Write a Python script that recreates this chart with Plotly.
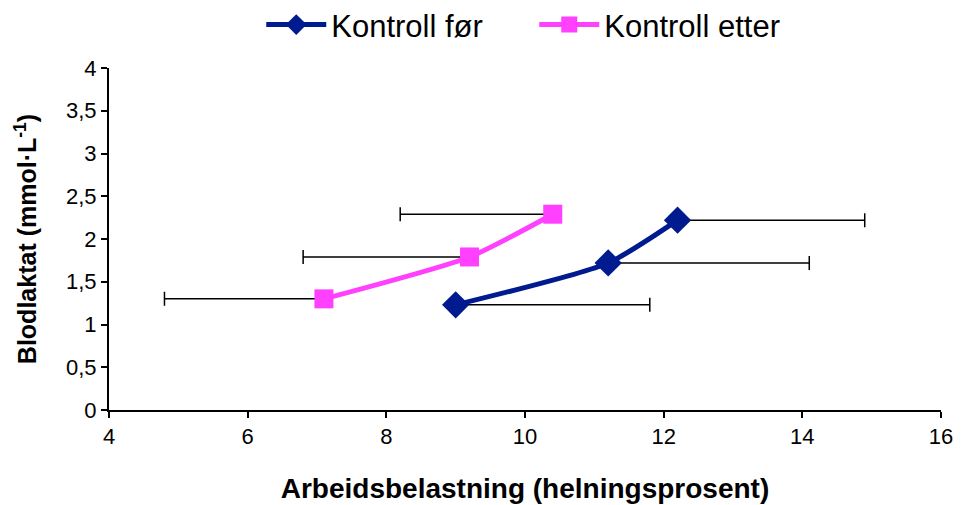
import plotly.graph_objects as go

# Data
for_x = [9.0, 11.2, 12.2]
for_y = [1.23, 1.72, 2.22]
for_err_plus = [2.8, 2.9, 2.7]

etter_x = [7.1, 9.2, 10.4]
etter_y = [1.30, 1.79, 2.29]
etter_err_minus = [2.3, 2.4, 2.2]

x_ticks = [4, 6, 8, 10, 12, 14, 16]
y_ticks = [0, 0.5, 1, 1.5, 2, 2.5, 3, 3.5, 4]

tickfam = "Liberation Sans Narrow, Arial Narrow, Liberation Sans, Arial, sans-serif"

fig = go.Figure()
fig.add_trace(go.Scatter(
    x=for_x, y=for_y, name="Kontroll før", mode="lines+markers",
    line=dict(color="#001A8F", width=5, shape="spline", smoothing=0.6),
    marker=dict(symbol="diamond", size=21, color="#001A8F"),
    error_x=dict(type="data", symmetric=False, array=for_err_plus,
                 arrayminus=[0, 0, 0], color="black", thickness=1.5, width=7),
))
fig.add_trace(go.Scatter(
    x=etter_x, y=etter_y, name="Kontroll etter", mode="lines+markers",
    line=dict(color="#FF40FF", width=5, shape="spline", smoothing=0.6),
    marker=dict(symbol="square", size=19, color="#FF40FF"),
    error_x=dict(type="data", symmetric=False, array=[0, 0, 0],
                 arrayminus=etter_err_minus, color="black", thickness=1.5, width=7),
))

fig.update_layout(
    width=965, height=505,
    margin=dict(l=101, r=32, t=60, b=103, autoexpand=False),
    paper_bgcolor="white", plot_bgcolor="white",
    font=dict(family="Liberation Sans, Arial, sans-serif", color="black"),
    separators=",.",
    showlegend=True,
    legend=dict(orientation="h", x=0.183, xanchor="left", y=1.126, yanchor="middle",
                font=dict(size=31), itemwidth=60, entrywidth=198, entrywidthmode="pixels",
                bgcolor="rgba(0,0,0,0)"),
    xaxis=dict(range=[4, 16], tickvals=x_ticks, showline=True, linecolor="black", linewidth=2,
               ticks="outside", ticklen=6, tickwidth=1.5, tickcolor="black",
               showgrid=False, zeroline=False, tickfont=dict(size=22, family=tickfam),
               title=dict(text="<b>Arbeidsbelastning (helningsprosent)</b>", font=dict(size=28), standoff=30)),
    yaxis=dict(range=[0, 4], tickvals=y_ticks, showline=True, linecolor="black", linewidth=2,
               ticks="outside", ticklen=6, tickwidth=1.5, tickcolor="black",
               showgrid=False, zeroline=False, tickfont=dict(size=22, family=tickfam),
               title=dict(text="<b>Blodlaktat (mmol·L<sup>-1</sup>)</b>", font=dict(size=25), standoff=22)),
)

fig.write_html("out.html")
